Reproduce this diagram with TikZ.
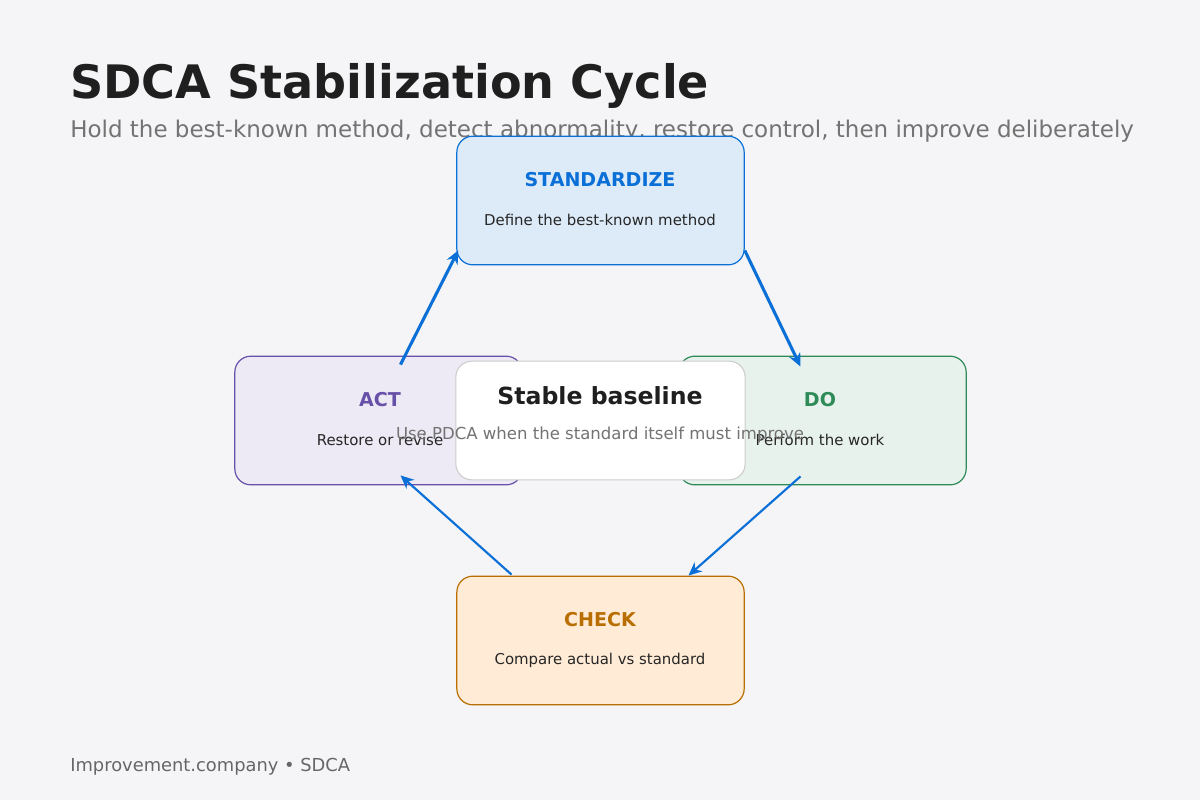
\documentclass[tikz,border=0pt]{standalone}
\usepackage{fontspec}
\setmainfont{DejaVu Sans}
\usetikzlibrary{positioning,calc,arrows.meta}
\definecolor{bg}{HTML}{F5F5F7}
\definecolor{flow}{HTML}{0A6FD6}
\definecolor{actc}{HTML}{6650A8}
\definecolor{doc}{HTML}{2E8B57}
\definecolor{chkc}{HTML}{B86E00}
\tikzset{
	phase/.style={rectangle,rounded corners=12pt,minimum width=215.5pt,minimum height=96.5pt,line width=0.9pt},
	head/.style={font=\bfseries\fontsize{14.3}{17}\selectfont},
	note/.style={font=\fontsize{11.2}{13}\selectfont,text=black!85},
	flowarrow/.style={-{Stealth[length=10pt,width=9pt]},draw=flow,line width=2.3pt}}
\begin{document}
\begin{tikzpicture}[x=0.75pt,y=-0.75pt]
	\fill[bg] (0,0) rectangle (1200,800);
	\useasboundingbox (0,0) rectangle (1200,800);

	\node[anchor=west,inner sep=0pt,font=\bfseries\fontsize{34.6}{40}\selectfont,text=black!88] (title) at (70,86) {SDCA Stabilization Cycle};
	\node[anchor=west,inner sep=0pt,font=\fontsize{17.25}{20}\selectfont,text=black!55] (sub) at (70,131) {Hold the best-known method, detect abnormality, restore control, then improve deliberately};

	% the four phases
	\node[phase,draw=flow,fill=flow!14] (std) at (600.5,200.5) {};
	\node[phase,draw=actc,fill=actc!12] (act) at (378.5,420.5) {};
	\node[phase,draw=doc,fill=doc!11] (do) at (822.5,420.5) {};
	\node[phase,draw=chkc,fill=orange!16] (chk) at (600.5,640.5) {};

	\node[head,text=flow] at (600,180) {STANDARDIZE};
	\node[note] at (600,220) {Define the best-known method};
	\node[head,text=actc] at (380,400) {ACT};
	\node[note] at (380,440) {Restore or revise};
	\node[head,text=doc] at (820,400) {DO};
	\node[note] at (820,440) {Perform the work};
	\node[head,text=chkc] at (600,620) {CHECK};
	\node[note] at (600,660) {Compare actual vs standard};

	% cycle
	\draw[flowarrow] ($(act.north)+(22,9)$) -- ($(std.south west)+(2,-15)$);
	\draw[flowarrow] ($(std.south east)+(0,-15)$) -- ($(do.north)+(-22,11)$);
	\draw[flowarrow,line width=1.6pt] ($(do.south)+(-22,-9)$) -- ($(chk.north)+(88,0)$);
	\draw[flowarrow,line width=1.6pt] ($(chk.north)+(-89,-1)$) -- ($(act.south)+(22,-10)$);

	\node[rectangle,rounded corners=12pt,minimum width=217pt,minimum height=89pt,draw=black!20,fill=white,line width=0.8pt] (base) at (600.5,420.5) {};
	\node[font=\bfseries\fontsize{17.7}{20}\selectfont,text=black!88] at (600,396) {Stable baseline};
	\node[font=\fontsize{12.4}{14}\selectfont,text=black!55] at (600,435) {Use PDCA when the standard itself must improve};

	\node[anchor=west,inner sep=0pt,font=\fontsize{13.4}{15}\selectfont,text=black!60] (foot) at (70,767) {Improvement.company • SDCA};
\end{tikzpicture}
\end{document}
